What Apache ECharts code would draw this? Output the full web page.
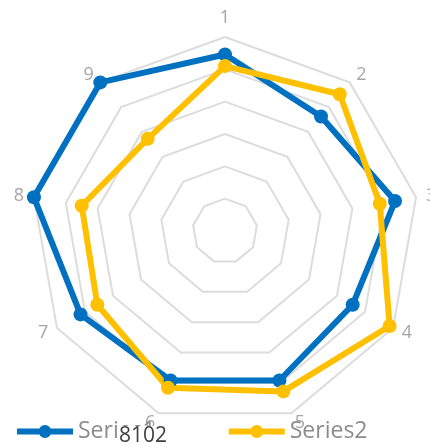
<!DOCTYPE html>
<html>
<head>
    <meta charset="utf-8">
    <title>Radar</title>
    <script src="https://cdn.jsdelivr.net/npm/echarts@6/dist/echarts.min.js"></script>
    <style>
        html, body { margin: 0; padding: 0; background: #fff; }
        #chart-container { width: 430px; height: 446px; }
    </style>
</head>
<body>
<div id="chart-container"></div>
<script>
    // data, in axis order 1..9 (clockwise from the top)
    var categories = ['1', '2', '3', '4', '5', '6', '7', '8', '9'];
    var series1 = [91, 77, 89, 76, 82, 82, 86, 100, 100];
    var series2 = [85, 92, 81, 98, 88, 86, 76, 75, 62];
    var seriesNames = ['Series1', 'Series2'];
    var maxValue = 100;

    // echarts places indicators counter-clockwise, so reverse after the first
    function clockwise(arr) {
        return [arr[0]].concat(arr.slice(1).reverse());
    }

    // legend icon: thick line with a dot in the middle
    var lineDotIcon = 'path://M0,3.5 L56,3.5 L56,9.5 L0,9.5 Z ' +
        'M21.5,6.5 A6.5,6.5 0 1,1 34.5,6.5 A6.5,6.5 0 1,1 21.5,6.5 Z';

    var myChart = echarts.init(document.getElementById('chart-container'));

    var option = {
        animation: false,
        title: {
            text: '8102',
            left: 117,
            top: 426,
            padding: [0, 0, 0, 2],
            backgroundColor: '#fff',
            textStyle: {
                fontFamily: 'Open Sans',
                fontSize: 21,
                fontWeight: 'normal',
                color: '#404040'
            }
        },
        legend: {
            left: 12,
            bottom: -2,
            icon: lineDotIcon,
            itemWidth: 56,
            itemHeight: 13,
            itemGap: 73,
            textStyle: {
                fontFamily: 'Open Sans',
                fontSize: 23,
                color: '#8c8c8c'
            },
            data: seriesNames
        },
        radar: {
            center: [225, 231],
            radius: 194,
            shape: 'polygon',
            splitNumber: 6,
            nameGap: 10,
            indicator: clockwise(categories).map(function (c) {
                return { name: c, max: maxValue, min: 0 };
            }),
            axisName: {
                color: '#a6a6a6',
                fontFamily: 'Open Sans',
                fontSize: 18
            },
            axisLine: { show: false },
            splitArea: { show: false },
            splitLine: {
                lineStyle: { color: '#dcdcdc', width: 2 }
            }
        },
        series: [
            {
                type: 'radar',
                symbol: 'circle',
                symbolSize: 14,
                data: [
                    {
                        name: seriesNames[0],
                        value: clockwise(series1),
                        itemStyle: { color: '#0070c0' },
                        lineStyle: { color: '#0070c0', width: 6 }
                    },
                    {
                        name: seriesNames[1],
                        value: clockwise(series2),
                        itemStyle: { color: '#ffc000' },
                        lineStyle: { color: '#ffc000', width: 6 }
                    }
                ]
            }
        ]
    };

    myChart.setOption(option);
</script>
</body>
</html>
